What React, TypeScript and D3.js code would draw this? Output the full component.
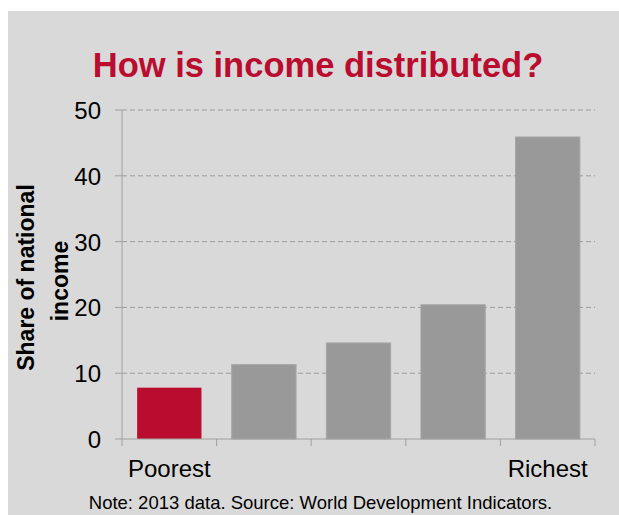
import React from "react";
import * as d3 from "d3";

const categories = ["Q1", "Q2", "Q3", "Q4", "Q5"];
const categoryLabels = ["Poorest", "", "", "", "Richest"];
const shares = [7.8, 11.3, 14.6, 20.4, 45.9];
const yTicks = [0, 10, 20, 30, 40, 50];
const title = "How is income distributed?";
const yTitleLines = ["Share of national", "income"];
const note = "Note: 2013 data. Source: World Development Indicators.";

const W = 619;
const H = 515;
const FONT = "'Liberation Sans', Arial, Helvetica, sans-serif";
const RED = "#BA0C2F";
const GRAY = "#999999";

export default function App() {
  const plotLeft = 122;
  const plotRight = 595;
  const plotTop = 110;
  const plotBottom = 439;

  const x = d3
    .scaleBand<string>()
    .domain(categories)
    .range([plotLeft, plotRight])
    .paddingInner(0.32)
    .paddingOuter(0.16);
  const y = d3.scaleLinear().domain([0, 50]).range([plotBottom, plotTop]);

  const step = x.step();
  const boundaries = d3.range(categories.length + 1).map((i) => plotLeft + i * step);

  return (
    <div style={{ position: "absolute", left: 0, top: 0 }}>
      <svg width={W} height={H} style={{ display: "block" }} fontFamily={FONT}>
        <rect x={0} y={0} width={W} height={H} fill="#ffffff" />
        <rect x={8} y={11} width={W - 8} height={H - 11} fill="#d9d9d9" />

        <text x={318} y={77} textAnchor="middle" fontSize={34.5} fontWeight="bold" fill={RED}>
          {title}
        </text>

        {/* gridlines */}
        {yTicks
          .filter((t) => t > 0)
          .map((t) => (
            <line
              key={"g" + t}
              x1={plotLeft}
              x2={plotRight}
              y1={y(t)}
              y2={y(t)}
              stroke="#9c9c9c"
              strokeWidth={1}
              strokeDasharray="5,3"
            />
          ))}

        {/* y axis */}
        <line x1={plotLeft} x2={plotLeft} y1={plotTop} y2={plotBottom} stroke="#a0a0a0" strokeWidth={1} />
        {yTicks.map((t) => (
          <g key={"t" + t}>
            <line x1={plotLeft - 7} x2={plotLeft} y1={y(t)} y2={y(t)} stroke="#a0a0a0" strokeWidth={1} />
            <text x={101} y={y(t) + 9} textAnchor="end" fontSize={24} fill="#000">
              {t}
            </text>
          </g>
        ))}

        {/* bars */}
        {categories.map((c, i) => (
          <rect
            key={c}
            x={x(c)!}
            y={y(shares[i])}
            width={x.bandwidth()}
            height={y(0) - y(shares[i])}
            fill={i === 0 ? RED : GRAY}
            stroke={i === 0 ? "none" : "#a6a6a6"}
            strokeWidth={1}
          />
        ))}

        {/* x axis */}
        <line x1={plotLeft} x2={plotRight} y1={plotBottom} y2={plotBottom} stroke="#a0a0a0" strokeWidth={1} />
        {boundaries.map((bx, i) => (
          <line key={"xb" + i} x1={bx} x2={bx} y1={plotBottom} y2={plotBottom + 7} stroke="#a0a0a0" strokeWidth={1} />
        ))}
        {categories.map((c, i) => (
          <text
            key={"xl" + c}
            x={x(c)! + x.bandwidth() / 2}
            y={476.7}
            textAnchor="middle"
            fontSize={24}
            fill="#000"
          >
            {categoryLabels[i]}
          </text>
        ))}

        {/* y title */}
        <text
          transform={`translate(34,277.5) rotate(-90)`}
          textAnchor="middle"
          fontSize={23}
          fontWeight="bold"
          fill="#000"
        >
          {yTitleLines[0]}
        </text>
        <text
          transform={`translate(68,281) rotate(-90)`}
          textAnchor="middle"
          fontSize={23}
          fontWeight="bold"
          fill="#000"
        >
          {yTitleLines[1]}
        </text>

        <text x={320.5} y={509.3} textAnchor="middle" fontSize={18.5} fill="#000">
          {note}
        </text>
      </svg>
    </div>
  );
}
